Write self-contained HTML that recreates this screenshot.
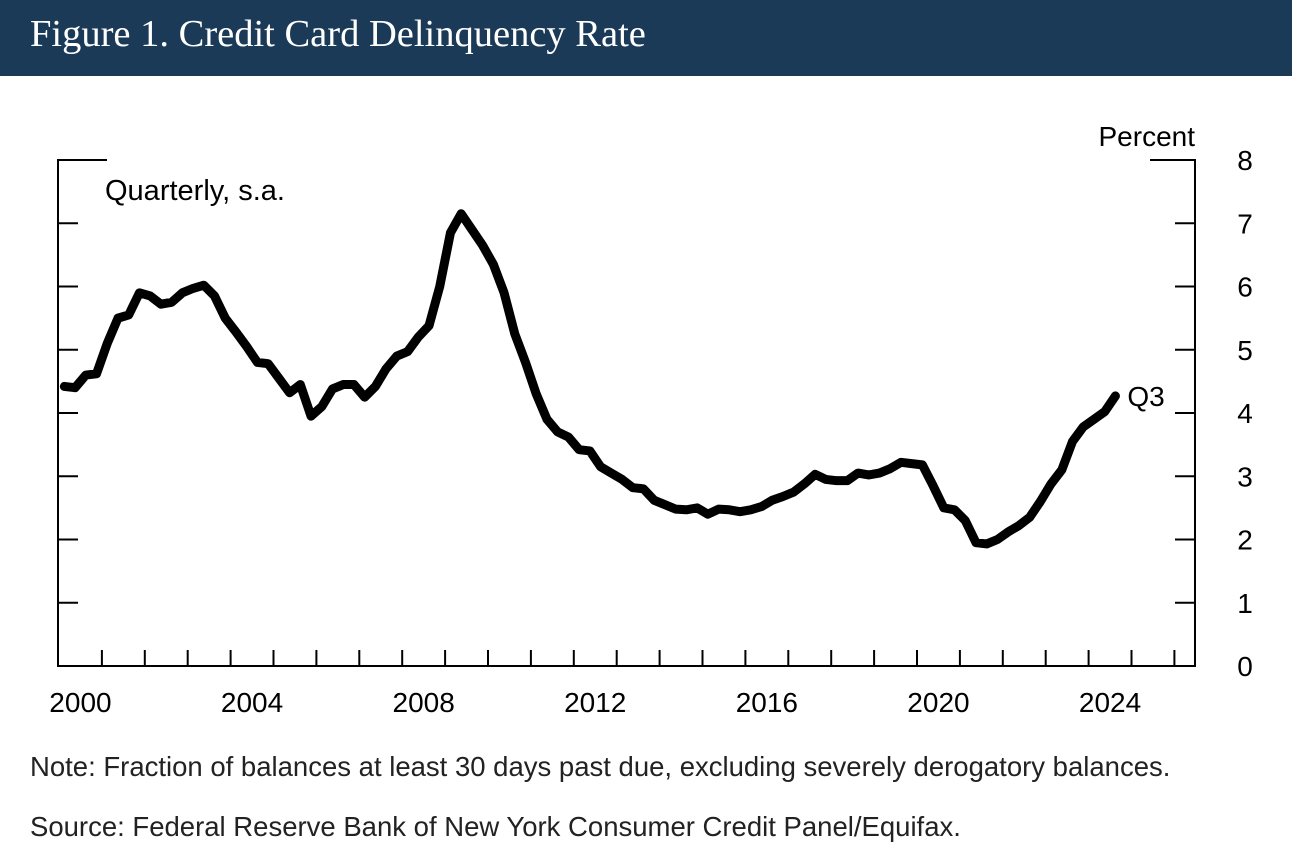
<!DOCTYPE html>
<html><head><meta charset="utf-8"><style>
body{margin:0;width:1292px;height:857px;background:#fff;overflow:hidden;font-family:"Liberation Sans",Arial,sans-serif}
#hdr{position:absolute;left:0;top:0;width:1292px;height:76px;background:#1b3a57}
#hdr span{position:absolute;left:30px;top:12px;color:#fff;font-family:"Liberation Serif",serif;font-size:38.5px}
.note{position:absolute;left:30px;font-size:27.5px;color:#222}
</style></head><body>
<div id="hdr"><span>Figure 1. Credit Card Delinquency Rate</span></div>
<svg id="chart" width="1292" height="740" style="position:absolute;left:0;top:0" font-family="Liberation Sans, Arial, sans-serif"></svg>
<div class="note" style="top:751px">Note: Fraction of balances at least 30 days past due, excluding severely derogatory balances.</div>
<div class="note" style="top:811px">Source: Federal Reserve Bank of New York Consumer Credit Panel/Equifax.</div>
<script>
const values = [
4.42,4.40,4.60,4.62, 5.10,5.50,5.55,5.90, 5.85,5.72,5.75,5.90, 5.97,6.02,5.85,5.50,
5.28,5.05,4.80,4.78, 4.55,4.32,4.45,3.95, 4.10,4.38,4.45,4.45, 4.25,4.42,4.70,4.90,
4.97,5.20,5.38,6.00, 6.85,7.15,6.90,6.65, 6.35,5.90,5.25,4.80, 4.30,3.90,3.70,3.62,
3.42,3.40,3.15,3.05, 2.95,2.82,2.80,2.62, 2.55,2.48,2.47,2.50, 2.40,2.48,2.47,2.44,
2.47,2.52,2.62,2.68, 2.75,2.88,3.03,2.95, 2.93,2.93,3.05,3.02, 3.05,3.12,3.22,3.20,
3.18,2.85,2.50,2.47, 2.30,1.95,1.93,2.00, 2.12,2.22,2.35,2.60, 2.88,3.10,3.55,3.78,
3.90,4.02,4.27];
const startYear = 2000;
const yTicks = [0,1,2,3,4,5,6,7,8];
const xLabels = [2000,2004,2008,2012,2016,2020,2024];
const svg = document.getElementById('chart');
const NS='http://www.w3.org/2000/svg';
const L=58,R=1195,T=160,B=666,X0=59,PX=42.9;
const xs=t=>X0+(t-startYear)*PX;
const ys=v=>B-(v/8)*(B-T);
function mk(tag,attrs){const e=document.createElementNS(NS,tag);for(const k in attrs)e.setAttribute(k,attrs[k]);svg.appendChild(e);return e;}
const st={stroke:'#000','stroke-width':2,fill:'none'};
let e;
e=mk('path',Object.assign({d:`M107 ${T} H${L} V${B} H${R} V${T} H1150`},st));


yTicks.forEach(v=>{
 if(v>0&&v<8){
  e=mk('line',Object.assign({x1:L,x2:L+20,y1:ys(v),y2:ys(v)},st));
  
  
  e=mk('line',Object.assign({x1:R-20,x2:R,y1:ys(v),y2:ys(v)},st));
  
  
 }
 e=mk('text',{x:1245,y:ys(v)+10,'font-size':28,'text-anchor':'middle',fill:'#000'});
 e.textContent=v;
 
 
});
for(let y=startYear+1;y<=2026;y++){
 e=mk('line',Object.assign({x1:xs(y),x2:xs(y),y1:B,y2:B-16},st));
 
 
}
xLabels.forEach(y=>{
 e=mk('text',{x:xs(y+0.5),y:712,'font-size':28,'text-anchor':'middle',fill:'#000'});
 e.textContent=y;
 
 
});
e=mk('text',{x:1195,y:146,'font-size':28,'text-anchor':'end',fill:'#000'});
e.textContent='Percent';


e=mk('text',{x:105,y:200,'font-size':29,fill:'#000'});
e.textContent='Quarterly, s.a.';


const pts=values.map((v,i)=>[xs(startYear+i/4+0.125),ys(v)]);
e=mk('polyline',{points:pts.map(p=>p.join(',')).join(' '),fill:'none',stroke:'#000','stroke-width':9,'stroke-linejoin':'round','stroke-linecap':'round'});


const lp=pts[pts.length-1];
e=mk('text',{x:lp[0]+12,y:lp[1]+10,'font-size':28,fill:'#000'});
e.textContent='Q3';


</script>
</body></html>
